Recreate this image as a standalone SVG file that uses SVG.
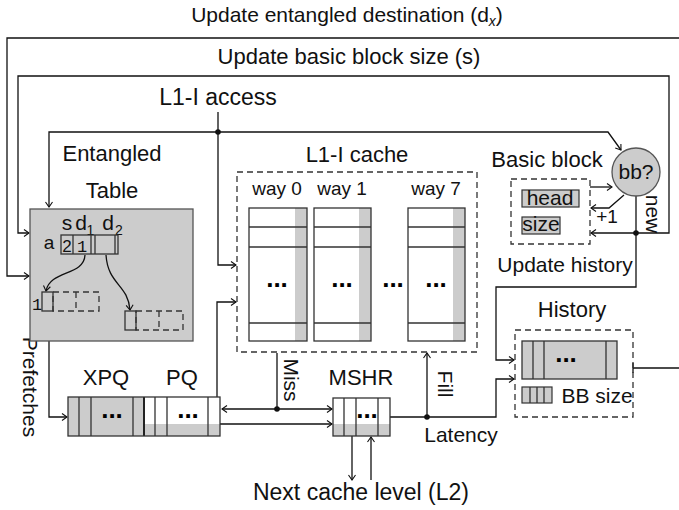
<svg xmlns="http://www.w3.org/2000/svg" width="679" height="510" viewBox="0 0 679 510">
<defs>
<marker id="ar" markerWidth="10" markerHeight="10" refX="7" refY="5" orient="auto-start-reverse" markerUnits="userSpaceOnUse">
<path d="M2,1.5 L7,5 L2,8.5" fill="none" stroke="#111" stroke-width="1.1"/>
</marker>
<style>
text{font-family:"Liberation Sans",Arial,sans-serif;fill:#111}
.l{font-size:21px}
.h{font-size:22px}
.m{text-anchor:middle}
.c{fill:none;stroke:#111;stroke-width:1.3}
.b{fill:none;stroke:#333;stroke-width:1.3}
.g{fill:#cccccc}
.w{fill:#ffffff}
.d{fill:none;stroke:#333;stroke-width:1.3;stroke-dasharray:6,4}
.dt{font-size:26px;font-weight:bold;text-anchor:middle;fill:#000}
</style>
</defs>
<rect width="679" height="510" fill="#ffffff"/>

<g id="labels">
<text class="l m" x="347" y="22">Update entangled destination (d<tspan font-size="14" font-style="italic" dy="4">x</tspan><tspan dy="-4">)</tspan></text>
<text class="m" font-size="22" x="349" y="64">Update basic block size (s)</text>
<text class="m" font-size="23" x="218" y="105">L1-I access</text>
<text class="m" font-size="23" x="361" y="500">Next cache level (L2)</text>
<text class="l" transform="translate(30,387) rotate(90)" text-anchor="middle" y="7">Prefetches</text>
<text class="l" transform="translate(291,380) rotate(90)" text-anchor="middle" y="7">Miss</text>
<text class="l" transform="translate(445,384) rotate(90)" text-anchor="middle" y="7">Fill</text>
<text class="l" transform="translate(651,214) rotate(90)" text-anchor="middle" y="5.5">new</text>
<text class="l m" x="461" y="442">Latency</text>
<text class="l m" x="565" y="272">Update history</text>
<text class="l m" x="607" y="223" style="font-size:19px">+1</text>
</g>

<g id="connectors">
<path class="c" d="M679,38 H7 V276 H29" marker-end="url(#ar)"/>
<path class="c" d="M636,233 H669 V76 H18 V233 H29" marker-end="url(#ar)"/>
<path class="c" d="M636,233 H591" marker-end="url(#ar)"/>
<path class="c" d="M218,112 V265 H236" marker-end="url(#ar)"/>
<path class="c" d="M218,132 H49 V207" marker-end="url(#ar)"/>
<path class="c" d="M218,132 H608 L621,150" marker-end="url(#ar)"/>
<circle cx="218" cy="132" r="2.8" fill="#111"/>
<path class="c" d="M636,196 V287 H496 V360 H514" marker-end="url(#ar)"/>
<circle cx="636" cy="233" r="2.8" fill="#111"/>
<path class="c" d="M590,187 H612" marker-end="url(#ar)"/>
<path class="c" d="M624,195 L609,208 H591" marker-end="url(#ar)"/>
<path class="c" d="M49,341 V417 H67" marker-end="url(#ar)"/>
<path class="c" d="M217,397 V302 H236" marker-end="url(#ar)"/>
<path class="c" d="M277,353 V409"/>
<path class="c" d="M222,409 H332" marker-start="url(#ar)" marker-end="url(#ar)"/>
<circle cx="277" cy="409" r="2.8" fill="#111"/>
<path class="c" d="M220,424 H332" marker-end="url(#ar)"/>
<path class="c" d="M390,417 H496 V379 H514" marker-end="url(#ar)"/>
<path class="c" d="M427,417 V353" marker-end="url(#ar)"/>
<circle cx="427" cy="417" r="2.8" fill="#111"/>
<path class="c" d="M352,436 V480" marker-end="url(#ar)"/>
<path class="c" d="M371,480 V437" marker-end="url(#ar)"/>
<path class="c" d="M633,368 H679 M633,363 V373"/>
</g>

<g id="entangled-table">
<text class="h m" x="112" y="161">Entangled</text>
<text class="h m" x="112" y="198">Table</text>
<rect x="30" y="209" width="163" height="132" class="g" stroke="#555" stroke-width="1.3"/>
<text x="67" y="230" text-anchor="middle" font-size="21">s</text>
<text x="81" y="230" text-anchor="middle" font-size="21">d</text>
<text x="90.5" y="235" text-anchor="middle" font-size="14">1</text>
<text x="108" y="230" text-anchor="middle" font-size="21">d</text>
<text x="119" y="235" text-anchor="middle" font-size="14">2</text>
<text x="49" y="249" text-anchor="middle" font-size="19">a</text>
<rect x="61" y="235" width="57" height="19" class="b"/>
<path class="b" d="M73,235 V254 M91,235 V254 M95,235 V254 M115,235 V254"/>
<text x="67" y="252" text-anchor="middle" font-size="17">2</text>
<text x="82" y="252" text-anchor="middle" font-size="17" style="font-family:'Liberation Mono',monospace">1</text>
<path class="c" d="M85,255 C84,276 50,270 46,291" marker-end="url(#ar)"/>
<path class="c" d="M106,255 C108,285 128,284 130,310" marker-end="url(#ar)"/>
<text x="37" y="310" text-anchor="middle" font-size="17" style="font-family:'Liberation Mono',monospace">1</text>
<rect x="42" y="292" width="11" height="19" class="b"/>
<rect x="53" y="292" width="46" height="19" class="d" stroke-dasharray="5,4"/>
<path class="d" stroke-dasharray="5,4" d="M76,292 V311"/>
<rect x="125" y="311" width="11" height="19" class="b"/>
<rect x="136" y="311" width="47" height="19" class="d" stroke-dasharray="5,4"/>
<path class="d" stroke-dasharray="5,4" d="M159,311 V330"/>
</g>

<g id="l1i-cache">
<text class="h m" x="357" y="162">L1-I cache</text>
<rect x="237" y="172" width="240" height="180" class="d"/>
<text x="277" y="195" text-anchor="middle" font-size="19">way 0</text>
<text x="342" y="195" text-anchor="middle" font-size="19">way 1</text>
<text x="436" y="195" text-anchor="middle" font-size="19">way 7</text>
<g id="way0">
<rect x="249" y="208" width="58" height="133" class="w"/>
<rect x="295" y="208" width="12" height="133" class="g"/>
<path class="b" d="M249,227 H307 M249,247 H307 M249,323 H307"/>
<rect x="249" y="208" width="58" height="133" class="b"/>
<text class="dt" x="277" y="287">...</text>
</g>
<g id="way1">
<rect x="314" y="208" width="57" height="133" class="w"/>
<rect x="359" y="208" width="12" height="133" class="g"/>
<path class="b" d="M314,227 H371 M314,247 H371 M314,323 H371"/>
<rect x="314" y="208" width="57" height="133" class="b"/>
<text class="dt" x="342" y="287">...</text>
</g>
<text class="dt" x="393" y="287">...</text>
<g id="way7">
<rect x="408" y="208" width="57" height="133" class="w"/>
<rect x="453" y="208" width="12" height="133" class="g"/>
<path class="b" d="M408,227 H465 M408,247 H465 M408,323 H465"/>
<rect x="408" y="208" width="57" height="133" class="b"/>
<text class="dt" x="436" y="287">...</text>
</g>
</g>

<g id="basic-block">
<text class="h m" x="547" y="167">Basic block</text>
<rect x="511" y="179" width="79" height="65" class="d"/>
<rect x="522" y="190" width="57" height="17" class="g" stroke="#333" stroke-width="1.2"/>
<text class="l m" x="550" y="205">head</text>
<rect x="522" y="217" width="38" height="17" class="g" stroke="#333" stroke-width="1.2"/>
<text class="l m" x="541" y="231">size</text>
</g>

<g id="bb-check">
<circle cx="636" cy="172" r="24" class="g" stroke="#555" stroke-width="1.3"/>
<text class="l m" x="636" y="179">bb?</text>
</g>

<g id="history">
<text class="h m" x="572" y="317">History</text>
<rect x="515" y="330" width="118" height="87" class="d"/>
<rect x="522" y="341" width="95" height="38" class="g" stroke="#333" stroke-width="1.3"/>
<path class="b" d="M533,341 V379 M544,341 V379 M606,341 V379"/>
<text class="dt" x="566" y="362">...</text>
<rect x="522" y="387" width="30" height="16" class="g" stroke="#333" stroke-width="1.2"/>
<path class="b" d="M530,387 V403 M537,387 V403 M544,387 V403"/>
<text class="l m" x="597" y="403">BB size</text>
</g>

<g id="xpq-pq">
<text class="h m" x="106" y="385">XPQ</text>
<text class="h m" x="182" y="385">PQ</text>
<rect x="68" y="397" width="76" height="39" class="g"/>
<rect x="144" y="397" width="76" height="39" class="w"/>
<rect x="144" y="424" width="76" height="12" class="g"/>
<path class="b" d="M79,397 V436 M91,397 V436 M133,397 V436 M155,397 V436 M167,397 V436 M208,397 V436"/>
<path d="M144,397 V436" stroke="#222" stroke-width="2"/>
<rect x="68" y="397" width="152" height="39" class="b"/>
<text class="dt" x="112" y="418">...</text>
<text class="dt" x="188" y="418">...</text>
</g>

<g id="mshr">
<text class="h m" x="361" y="385">MSHR</text>
<rect x="333" y="398" width="57" height="38" class="w"/>
<rect x="333" y="424" width="57" height="12" class="g"/>
<path class="b" d="M344,398 V436 M356,398 V436 M378,398 V436"/>
<rect x="333" y="398" width="57" height="38" class="b"/>
<text class="dt" x="367" y="418">...</text>
</g>
</svg>
